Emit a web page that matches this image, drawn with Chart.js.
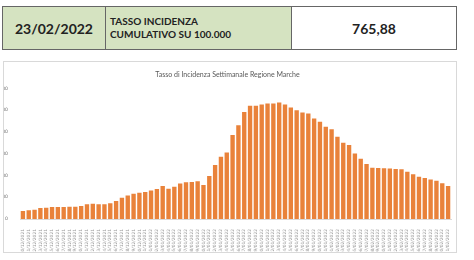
<!DOCTYPE html>
<html>
<head>
<meta charset="utf-8">
<script src="https://cdn.jsdelivr.net/npm/chart.js@4"></script>
<style>
  body { margin: 0; background: #fff; width: 474px; height: 260px; position: relative; overflow: hidden; font-family: Lato, "Open Sans", sans-serif; }
  .hdr { position: absolute; left: 2px; top: 6px; width: 455px; height: 44px; border-collapse: collapse; }
  .hdr td { border: 1.5px solid #666; padding: 0; font-weight: bold; color: #222; }
  .c1 { width: 102px; background: #d5e3c1; text-align: center; font-size: 14px; }
  .c2 { width: 181px; background: #d5e3c1; font-size: 10px; line-height: 13px; padding-left: 4px !important; }
  .c3 { background: #fff; text-align: center; font-size: 14px; }
  .box { position: absolute; left: 3px; top: 61px; width: 452px; height: 190px; border: 1px solid #d9d9d9; }
</style>
</head>
<body>
<table class="hdr">
  <tr>
    <td class="c1">23/02/2022</td>
    <td class="c2">TASSO INCIDENZA<br>CUMULATIVO SU 100.000</td>
    <td class="c3">765,88</td>
  </tr>
</table>
<div class="box"><canvas id="chart" width="452" height="190"></canvas></div>
<script>
const chartTitle = 'Tasso di Incidenza Settimanale Regione Marche';

const dates = [
  '10/12/2021','11/12/2021','12/12/2021','13/12/2021','14/12/2021','15/12/2021','16/12/2021','17/12/2021',
  '18/12/2021','19/12/2021','20/12/2021','21/12/2021','22/12/2021','23/12/2021','24/12/2021','25/12/2021',
  '26/12/2021','27/12/2021','28/12/2021','29/12/2021','30/12/2021','31/12/2021','01/01/2022','02/01/2022',
  '03/01/2022','04/01/2022','05/01/2022','06/01/2022','07/01/2022','08/01/2022','09/01/2022','10/01/2022',
  '11/01/2022','12/01/2022','13/01/2022','14/01/2022','15/01/2022','16/01/2022','17/01/2022','18/01/2022',
  '19/01/2022','20/01/2022','21/01/2022','22/01/2022','23/01/2022','24/01/2022','25/01/2022','26/01/2022',
  '27/01/2022','28/01/2022','29/01/2022','30/01/2022','31/01/2022','01/02/2022','02/02/2022','03/02/2022',
  '04/02/2022','05/02/2022','06/02/2022','07/02/2022','08/02/2022','09/02/2022','10/02/2022','11/02/2022',
  '12/02/2022','13/02/2022','14/02/2022','15/02/2022','16/02/2022','17/02/2022','18/02/2022','19/02/2022',
  '20/02/2022','21/02/2022'
];

// weekly incidence per 100.000
const incidenza = [
  185, 200, 213, 250, 260, 275, 275, 275, 282, 282, 298, 337, 350, 337, 337, 360,
  413, 490, 540, 580, 605, 620, 655, 690, 760, 695, 740, 815, 845, 850, 870, 780,
  990, 1240, 1430, 1530, 1930, 2156, 2460, 2600, 2600, 2630, 2655, 2655, 2677, 2631,
  2562, 2500, 2448, 2425, 2310, 2232, 2120, 2060, 1888, 1750, 1698, 1507, 1383, 1262,
  1177, 1170, 1163, 1160, 1150, 1140, 1085, 1030, 970, 940, 910, 880, 820, 760
];

const yTicks = [0, 500, 1000, 1500, 2000, 2500, 3000];

const ctx = document.getElementById('chart').getContext('2d');
new Chart(ctx, {
  type: 'bar',
  data: {
    labels: dates,
    datasets: [{
      label: 'Incidenza',
      data: incidenza,
      backgroundColor: '#e9823a',
      borderWidth: 0,
      barPercentage: 0.75,
      categoryPercentage: 1.0
    }]
  },
  options: {
    responsive: false,
    animation: false,
    layout: { padding: { left: 0, right: 5, top: 0, bottom: 0 } },
    plugins: {
      legend: { display: false },
      tooltip: { enabled: false },
      title: {
        display: true,
        text: chartTitle,
        color: '#595959',
        font: { family: 'Lato', size: 7, weight: 'normal' },
        padding: { top: 9, bottom: 9 }
      }
    },
    scales: {
      x: {
        grid: { display: false },
        border: { display: true, color: '#d9d9d9' },
        ticks: {
          autoSkip: false,
          maxRotation: 90,
          minRotation: 90,
          color: '#9a9a9a',
          padding: 2,
          font: { family: 'DejaVu Sans', size: 4.4 }
        },
        afterFit: (scale) => { scale.height = 33; }
      },
      y: {
        min: 0,
        max: 3000,
        afterBuildTicks: (scale) => { scale.ticks = yTicks.map(v => ({ value: v })); },
        grid: { display: false },
        border: { display: false },
        ticks: {
          color: '#7a7a7a',
          padding: 4,
          font: { family: 'DejaVu Sans', size: 4.6 }
        },
        afterFit: (scale) => { scale.width = 16; }
      }
    }
  }
});
</script>
</body>
</html>
